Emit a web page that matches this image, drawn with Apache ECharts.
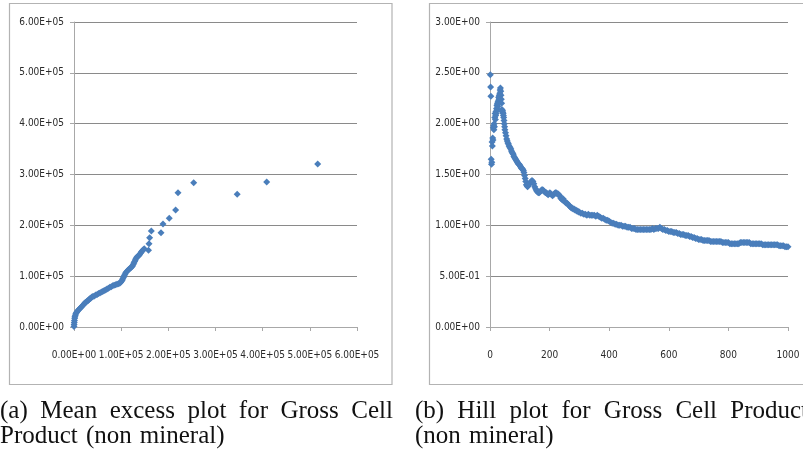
<!DOCTYPE html>
<html>
<head>
<meta charset="utf-8">
<script src="https://cdn.jsdelivr.net/npm/echarts@6/dist/echarts.min.js"></script>
<style>
  html, body { margin: 0; padding: 0; background: #ffffff; }
  #chart { width: 803px; height: 454px; }
</style>
</head>
<body>
<div id="chart"></div>
<script>
// Mean excess plot: threshold u and mean excess e(u)
const meThreshold = [0, 200, 500, 900, 1400, 2000, 2800, 3800, 5000, 6500,
  8000, 10000, 12000, 14000, 16000, 18000, 20000, 22000, 24000, 26000,
  28000, 30000, 32000, 34000, 36000, 38000, 40000, 43000, 46000, 49000,
  52000, 55000, 58000, 61000, 64000, 67000, 70000, 73000, 76000, 79000,
  82000, 85000, 88000, 91000, 94000, 97000, 99000, 100500, 102000, 103500,
  105000, 106500, 108000, 110000, 112000, 114000, 116000, 118000, 120000, 122000,
  124000, 125500, 127000, 128500, 130000, 131500, 133000, 135000, 137000, 139000,
  141000, 143000, 145000, 147000, 149000, 158000, 159000, 160400, 163900, 184400,
  188700, 202000, 215500, 220500, 253700, 346000, 408500, 516600];
const meExcess = [1000, 5000, 9000, 13000, 17000, 20000, 23000, 26000, 28000, 30000,
  32000, 34000, 36000, 38000, 40000, 42000, 44000, 46000, 48000, 49000,
  51000, 52000, 54000, 56000, 57000, 59000, 60000, 61000, 63000, 64000,
  66000, 67000, 69000, 70000, 72000, 73000, 75000, 76000, 78000, 79000,
  81000, 82000, 83000, 84000, 85000, 86000, 88000, 90000, 92000, 95000,
  98000, 101000, 104000, 107000, 109000, 111000, 113000, 115000, 116000, 118000,
  120000, 123000, 126000, 129000, 132000, 135000, 137000, 139000, 140000, 142000,
  145000, 148000, 150000, 152000, 154000, 151000, 164000, 175500, 188700, 185300,
  202500, 213700, 230000, 264000, 284000, 261000, 285200, 320700];

// Hill plot: [number of upper order statistics k, Hill estimate]
const hillPoints = [
  [1,2.48],[2,2.36],[3,2.27],[4,1.65],[5,1.60],[6,1.62],[7,1.82],[8,1.78],[9,1.86],[10,1.84],
  [11,1.96],[12,1.98],[13,1.94],[14,2.00],[15,1.97],[16,2.06],[17,2.10],[18,2.04],[19,2.08],[20,2.12],
  [21,2.10],[22,2.15],[23,2.18],[24,2.14],[25,2.20],[26,2.17],[27,2.22],[28,2.20],[29,2.26],[30,2.24],
  [31,2.28],[32,2.25],[33,2.30],[34,2.33],[35,2.35],[36,2.32],[37,2.28],[38,2.24],[39,2.20],[40,2.14],
  [41,2.12],[42,2.13],[43,2.11],[44,2.10],[45,2.08],[46,2.06],[47,2.03],[48,2.00],[49,1.97],[50,1.94],
  [52,1.91],[54,1.88],[56,1.85],[58,1.83],[60,1.81],[62,1.80],[64,1.78],[66,1.77],[68,1.76],[70,1.75],
  [72,1.73],[74,1.72],[76,1.71],[78,1.70],[80,1.68],[82,1.67],[84,1.66],[86,1.65],[88,1.64],[90,1.63],
  [92,1.62],[94,1.61],[96,1.60],[98,1.60],[100,1.59],[102,1.58],[104,1.57],[106,1.56],[108,1.56],[110,1.55],
  [112,1.54],[114,1.52],[116,1.49],[118,1.46],[120,1.43],[122,1.40],[124,1.39],[126,1.38],[128,1.39],[130,1.40],
  [132,1.41],[135,1.42],[138,1.43],[141,1.44],[144,1.43],[147,1.41],[150,1.38],[153,1.36],[156,1.34],[159,1.33],
  [162,1.32],[165,1.32],[168,1.33],[171,1.34],[174,1.35],[177,1.35],[180,1.34],[183,1.33],[186,1.32],[189,1.32],
  [192,1.31],[195,1.30],[198,1.31],[201,1.32],[204,1.31],[207,1.30],[210,1.29],[213,1.30],[216,1.31],[219,1.32],
  [222,1.32],[225,1.31],[228,1.31],[231,1.30],[234,1.29],[237,1.27],[240,1.26],[243,1.25],[246,1.26],[249,1.24],
  [252,1.23],[255,1.22],[258,1.22],[261,1.21],[264,1.20],[267,1.19],[270,1.18],[273,1.17],[276,1.17],[279,1.16],
  [282,1.16],[285,1.15],[288,1.15],[291,1.14],[294,1.14],[297,1.13],[300,1.13],[305,1.12],[310,1.12],[315,1.11],
  [320,1.11],[325,1.10],[330,1.11],[335,1.10],[340,1.10],[345,1.10],[350,1.10],[355,1.09],[360,1.10],[365,1.09],
  [370,1.08],[375,1.07],[380,1.07],[385,1.06],[390,1.05],[395,1.05],[400,1.04],[405,1.03],[410,1.02],[415,1.02],
  [420,1.01],[425,1.01],[430,1.00],[435,1.00],[440,1.00],[445,0.99],[450,0.99],[455,0.99],[460,0.98],[465,0.98],
  [470,0.98],[475,0.97],[480,0.97],[485,0.97],[490,0.96],[495,0.96],[500,0.96],[505,0.96],[510,0.96],[515,0.96],
  [520,0.96],[525,0.96],[530,0.96],[535,0.96],[540,0.96],[545,0.97],[550,0.96],[555,0.97],[560,0.97],[565,0.97],
  [570,0.98],[575,0.97],[580,0.96],[585,0.96],[590,0.95],[595,0.95],[600,0.94],[605,0.94],[610,0.94],[615,0.93],
  [620,0.93],[625,0.93],[630,0.92],[635,0.92],[640,0.91],[645,0.91],[650,0.91],[655,0.90],[660,0.90],[665,0.90],
  [670,0.89],[675,0.89],[680,0.88],[685,0.88],[690,0.87],[695,0.87],[700,0.86],[705,0.86],[710,0.86],[715,0.85],
  [720,0.85],[725,0.85],[730,0.85],[735,0.85],[740,0.84],[745,0.84],[750,0.84],[755,0.84],[760,0.84],[765,0.84],
  [770,0.84],[775,0.84],[780,0.83],[785,0.83],[790,0.83],[795,0.83],[800,0.83],[805,0.82],[810,0.82],[815,0.82],
  [820,0.82],[825,0.82],[830,0.82],[835,0.82],[840,0.83],[845,0.83],[850,0.83],[855,0.83],[860,0.83],[865,0.83],
  [870,0.83],[875,0.82],[880,0.82],[885,0.82],[890,0.82],[895,0.82],[900,0.82],[905,0.82],[910,0.82],[915,0.81],
  [920,0.81],[925,0.81],[930,0.81],[935,0.81],[940,0.81],[945,0.81],[950,0.81],[955,0.81],[960,0.81],[965,0.81],
  [970,0.80],[975,0.80],[980,0.80],[985,0.80],[990,0.79],[995,0.79],[1000,0.79]
];

// Tick labels in spreadsheet scientific notation
const meXTicks = ['0.00E+00', '1.00E+05', '2.00E+05', '3.00E+05', '4.00E+05', '5.00E+05', '6.00E+05'];
const meYTicks = ['0.00E+00', '1.00E+05', '2.00E+05', '3.00E+05', '4.00E+05', '5.00E+05', '6.00E+05'];
const hillXTicks = ['0', '200', '400', '600', '800', '1000'];
const hillYTicks = ['0.00E+00', '5.00E-01', '1.00E+00', '1.50E+00', '2.00E+00', '2.50E+00', '3.00E+00'];

// Sub-figure captions, one entry per line
const captionA = ['(a) Mean excess plot for Gross Cell', 'Product (non mineral)'];
const captionB = ['(b) Hill plot for Gross Cell Product', '(non mineral)'];

const MARK = '#4A7EBB';
const GRID_LINE = '#8a8a8a';
const AXIS_LINE = '#a8a8a8';
const LABEL_FONT = '"DejaVu Sans Condensed", "Liberation Sans Narrow", "DejaVu Sans", sans-serif';

function valueAxis(gridIndex, min, max, interval, labels, isY) {
  return {
    type: 'value',
    gridIndex: gridIndex,
    min: min, max: max, interval: interval,
    axisLine: { show: true, onZero: false, lineStyle: { color: AXIS_LINE, width: 1 } },
    axisTick: { show: true, inside: false, length: 4, lineStyle: { color: AXIS_LINE, width: 1 } },
    splitLine: { show: isY, lineStyle: { color: GRID_LINE, width: 1 } },
    axisLabel: {
      show: true,
      margin: isY ? 10 : 23,
      color: '#2b2b2b',
      fontSize: 10,
      fontFamily: LABEL_FONT,
      formatter: function (v) { return labels[Math.round((v - min) / interval)]; }
    }
  };
}

// Caption lines: justified lines spread words over the line width, last line set naturally
const CAPTION_FONT_SIZE = 25;
const CAPTION_FAMILY = '"Liberation Serif", "DejaVu Serif", serif';
const measureCtx = document.createElement('canvas').getContext('2d');
measureCtx.font = CAPTION_FONT_SIZE + 'px ' + CAPTION_FAMILY;

function captionLine(text, x0, lineWidth, top, justify) {
  const words = text.split(' ');
  const widths = words.map(function (w) { return measureCtx.measureText(w).width; });
  const total = widths.reduce(function (a, b) { return a + b; }, 0);
  const gap = justify ? (lineWidth - total) / (words.length - 1) : measureCtx.measureText(' ').width * 1.3;
  let x = x0;
  return words.map(function (w, i) {
    const el = {
      type: 'text',
      x: x, y: top,
      silent: true,
      style: { text: w, fill: '#111111', fontSize: CAPTION_FONT_SIZE, fontFamily: CAPTION_FAMILY, verticalAlign: 'top' }
    };
    x += widths[i] + gap;
    return el;
  });
}

const CAPTION_WIDTH = 393;
const captionElements = [].concat(
  captionLine(captionA[0], 0, CAPTION_WIDTH, 399, true),
  captionLine(captionA[1], 0, CAPTION_WIDTH, 424, false),
  captionLine(captionB[0], 415, CAPTION_WIDTH, 399, true),
  captionLine(captionB[1], 415, CAPTION_WIDTH, 424, false)
);

const frameElements = [
  { type: 'rect', silent: true, shape: { x: 9.5, y: 3.5, width: 382.5, height: 381 },
    style: { fill: 'none', stroke: '#b3b3b3', lineWidth: 1.2 } },
  { type: 'rect', silent: true, shape: { x: 429.5, y: 3.5, width: 400, height: 381 },
    style: { fill: 'none', stroke: '#b3b3b3', lineWidth: 1.2 } }
];

const chart = echarts.init(document.getElementById('chart'), null, { renderer: 'canvas', width: 803, height: 454 });

chart.setOption({
  animation: false,
  backgroundColor: '#ffffff',
  grid: [
    { left: 74, top: 22, width: 283, height: 305, outerBoundsMode: 'none', containLabel: false },
    { left: 490, top: 22, width: 298, height: 305, outerBoundsMode: 'none', containLabel: false }
  ],
  xAxis: [
    valueAxis(0, 0, 600000, 100000, meXTicks, false),
    valueAxis(1, 0, 1000, 200, hillXTicks, false)
  ],
  yAxis: [
    valueAxis(0, 0, 600000, 100000, meYTicks, true),
    valueAxis(1, 0, 3, 0.5, hillYTicks, true)
  ],
  series: [
    {
      type: 'scatter',
      xAxisIndex: 0, yAxisIndex: 0,
      data: meThreshold.map(function (u, i) { return [u, meExcess[i]]; }),
      symbol: 'diamond',
      symbolSize: 7,
      clip: false,
      silent: true,
      itemStyle: { color: MARK, opacity: 1 }
    },
    {
      type: 'scatter',
      xAxisIndex: 1, yAxisIndex: 1,
      data: hillPoints,
      symbol: 'diamond',
      symbolSize: 7,
      clip: false,
      silent: true,
      itemStyle: { color: MARK, opacity: 1 }
    }
  ],
  graphic: { elements: frameElements.concat(captionElements) }
});
</script>
</body>
</html>
